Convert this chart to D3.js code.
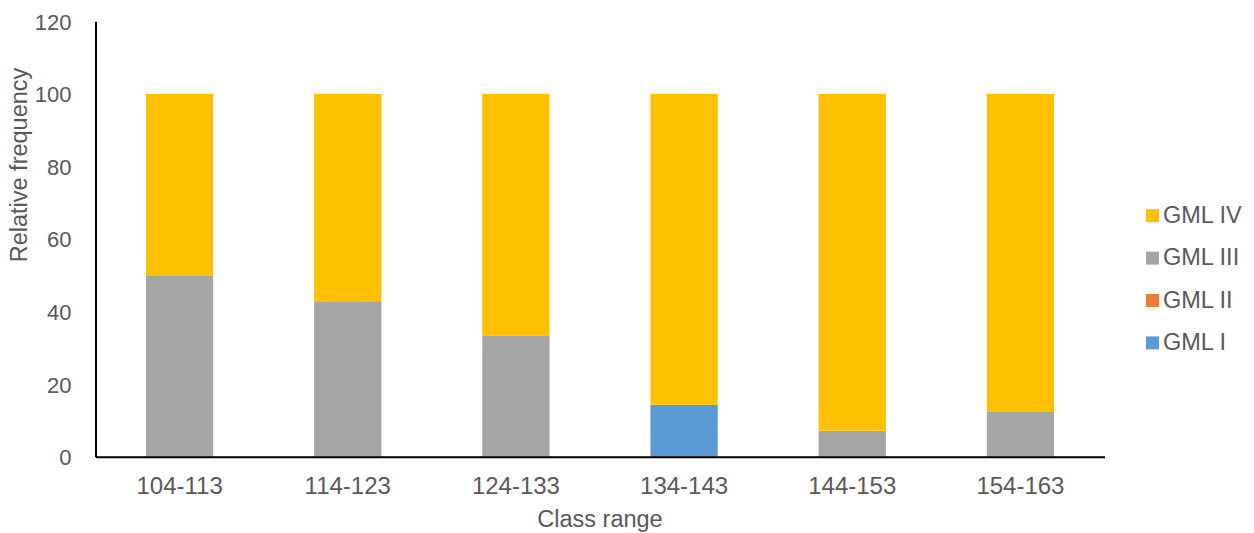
<!DOCTYPE html>
<html>
<head>
<meta charset="utf-8">
<script src="https://cdn.jsdelivr.net/npm/d3@7"></script>
<style>
  html, body { margin: 0; padding: 0; background: #fff; }
  svg text { font-family: "Liberation Sans", Arial, sans-serif; fill: #595959; }
</style>
</head>
<body>
<svg id="chart" width="1254" height="533"></svg>
<script>
// Class ranges along the x axis
const categories = ["104-113", "114-123", "124-133", "134-143", "144-153", "154-163"];

// Relative frequency (%) of each GML group per class range
const gmlI   = [0, 0, 0, 14.29, 0, 0];
const gmlII  = [0, 0, 0, 0, 0, 0];
const gmlIII = [50, 42.86, 33.33, 0, 7.14, 12.5];
const gmlIV  = [50, 57.14, 66.67, 85.71, 92.86, 87.5];

const seriesNames = ["GML I", "GML II", "GML III", "GML IV"];
const seriesColors = ["#5B9BD5", "#ED7D31", "#A5A5A5", "#FFC000"];
const yTicks = [0, 20, 40, 60, 80, 100, 120];

const rows = categories.map((c, i) => ({
  cat: c,
  "GML I": gmlI[i],
  "GML II": gmlII[i],
  "GML III": gmlIII[i],
  "GML IV": gmlIV[i]
}));

const svg = d3.select("#chart");
const plotLeft = 95.5, plotRight = 1104.5, plotTop = 21.3, plotBottom = 456.7;

const x = d3.scaleBand().domain(categories).range([plotLeft, plotRight])
  .paddingInner(0.6).paddingOuter(0.3);
const y = d3.scaleLinear().domain([0, 120]).range([plotBottom, plotTop]);
const color = d3.scaleOrdinal().domain(seriesNames).range(seriesColors);

const stack = d3.stack().keys(seriesNames);
const layers = stack(rows);

// Stacked bars
svg.append("g").selectAll("g")
  .data(layers)
  .join("g")
  .attr("fill", d => color(d.key))
  .selectAll("rect")
  .data(d => d.filter(s => s[1] - s[0] > 0))
  .join("rect")
  .attr("x", d => x(d.data.cat))
  .attr("width", x.bandwidth())
  .attr("y", d => y(d[1]))
  .attr("height", d => y(d[0]) - y(d[1]));

// Y axis (line + labels, no tick marks)
const yAxis = svg.append("g")
  .attr("transform", `translate(${plotLeft},0)`)
  .call(d3.axisLeft(y).tickValues(yTicks).tickSize(0).tickPadding(24));
yAxis.select(".domain").attr("stroke", "#000").attr("stroke-width", 2);
yAxis.selectAll("text")
  .style("font-size", "22px")
  .attr("font-family", null)
  .attr("dy", "0.36em");

// X axis
const xAxis = svg.append("g")
  .attr("transform", `translate(0,${plotBottom})`)
  .call(d3.axisBottom(x).tickSize(0).tickPadding(20));
xAxis.select(".domain").attr("stroke", "#000").attr("stroke-width", 2);
xAxis.selectAll("text")
  .style("font-size", "24px")
  .attr("font-family", null);

// Axis titles
svg.append("text")
  .attr("x", (plotLeft + plotRight) / 2)
  .attr("y", 527)
  .attr("text-anchor", "middle")
  .style("font-size", "23.5px")
  .text("Class range");

svg.append("text")
  .attr("transform", `translate(27,165) rotate(-90)`)
  .attr("text-anchor", "middle")
  .style("font-size", "23.5px")
  .text("Relative frequency");

// Legend, top entry = last stacked series
const legendItems = seriesNames.slice().reverse();
const legend = svg.append("g").selectAll("g")
  .data(legendItems)
  .join("g")
  .attr("transform", (d, i) => `translate(1146,${215.7 + i * 42.4})`);
legend.append("rect")
  .attr("x", 0).attr("y", -6.5)
  .attr("width", 13).attr("height", 13)
  .attr("fill", d => color(d));
legend.append("text")
  .attr("x", 17).attr("y", 7)
  .style("font-size", "23.5px")
  .text(d => d);
</script>
</body>
</html>
